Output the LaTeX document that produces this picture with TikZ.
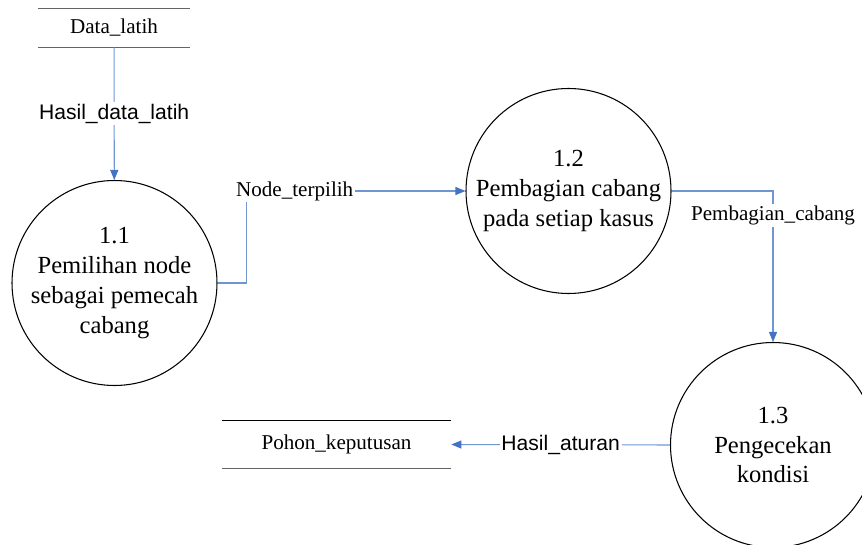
\documentclass[tikz,border=0pt]{standalone}
\usepackage{fontspec}
\setmainfont{Liberation Serif}
\setsansfont{Liberation Sans}
\newfontfamily\procfont{Liberation Serif}
\usetikzlibrary{arrows.meta,positioning,calc}
\definecolor{flowblue}{RGB}{112,150,210}
\definecolor{tipblue}{RGB}{68,114,196}
\definecolor{storegray}{RGB}{100,100,100}

\begin{document}
\begin{tikzpicture}[
    proc/.style={circle,draw,line width=0.6pt,minimum size=4.1cm,inner sep=0pt,align=center,font=\procfont\fontsize{14}{17}\selectfont},
    store/.style={inner sep=0pt,font=\rmfamily\fontsize{12}{14}\selectfont},
    flow/.style={flowblue,line width=0.6pt,-{Triangle[length=2mm,width=1.6mm,fill=tipblue,color=tipblue]}},
    lbl/.style={fill=white,text=black,inner sep=1pt,font=\rmfamily\fontsize{12}{14}\selectfont},
    slbl/.style={lbl,font=\sffamily\fontsize{12}{14}\selectfont}]
        \clip (0,0) rectangle (17.24,10.88);
        % data stores
        \node[store,minimum width=3.04cm,minimum height=0.76cm] (latih) at (2.28,10.32) {Data\_latih};
        \draw[storegray,line width=0.6pt] (latih.north west) -- (latih.north east) (latih.south west) -- (latih.south east);
        \node[store,minimum width=4.58cm,minimum height=0.94cm] (pohon) at (6.73,1.99) {Pohon\_keputusan};
        \draw[line width=0.6pt] (pohon.north west) -- (pohon.north east);
        \draw[storegray,line width=0.6pt] (pohon.south west) -- (pohon.south east);
        % processes
        \node[proc] (p11) at (2.29,5.22) {1.1\\Pemilihan node\\sebagai pemecah\\cabang};
        \node[proc] (p12) at (11.37,7.06) {1.2\\Pembagian cabang\\pada setiap kasus};
        \node[proc] (p13) at (15.46,1.98) {1.3\\Pengecekan\\kondisi};
        % flows
        \draw[flow] (latih) -- node[slbl] {Hasil\_data\_latih} (p11);
        \draw[flow] (p11.east) -- ++(0.58,0) |- node[lbl,pos=0.61] {Node\_terpilih} (p12.west);
        \draw[flow] (p12.east) -| node[lbl,pos=0.58] {Pembagian\_cabang} (p13.north);
        \draw[flow] (p13.west) -- node[slbl] {Hasil\_aturan} (pohon.east);
      \end{tikzpicture}
\end{document}
